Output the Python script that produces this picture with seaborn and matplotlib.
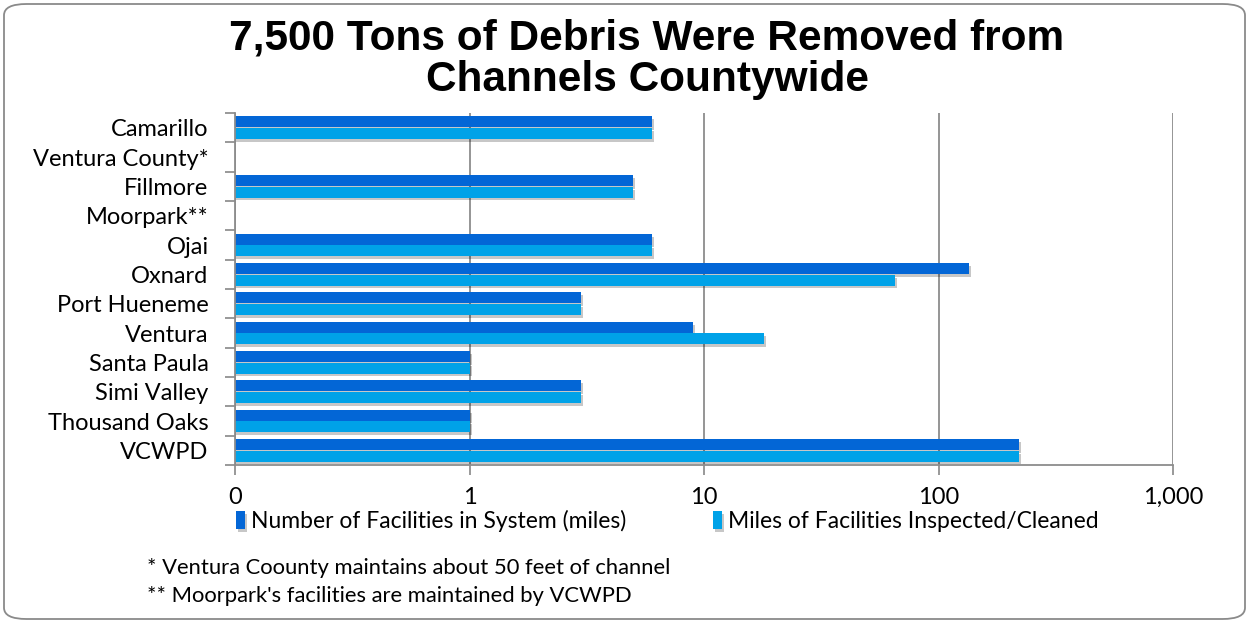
import numpy as np
import pandas as pd
import matplotlib
matplotlib.use("Agg")
import matplotlib.pyplot as plt
import matplotlib.patheffects as pe
from matplotlib.patches import FancyBboxPatch
from matplotlib.ticker import FixedLocator
import seaborn as sns

# ---------------- data ----------------
categories = ["Camarillo", "Ventura County*", "Fillmore", "Moorpark**", "Ojai", "Oxnard",
              "Port Hueneme", "Ventura", "Santa Paula", "Simi Valley", "Thousand Oaks", "VCWPD"]
series_names = ["Number of Facilities in System (miles)", "Miles of Facilities Inspected/Cleaned"]
facilities_in_system = [6, np.nan, 5, np.nan, 6, 135, 3, 9, 1, 3, 1, 220]
miles_inspected = [6, np.nan, 5, np.nan, 6, 65, 3, 18, 1, 3, 1, 220]
x_ticks = [0.1, 1, 10, 100, 1000]
x_tick_labels = ["0", "1", "10", "100", "1,000"]
title = "7,500 Tons of Debris Were Removed from\nChannels Countywide"
footnotes = ["* Ventura Coounty maintains about 50 feet of channel",
             "** Moorpark's facilities are maintained by VCWPD"]
colors = ["#0366D6", "#00A2E8"]

df = pd.DataFrame({
    "category": categories * 2,
    "series": [series_names[0]] * len(categories) + [series_names[1]] * len(categories),
    "value": facilities_in_system + miles_inspected,
})

# ---------------- plot ----------------
sns.set_theme(style="white")
plt.rcParams["font.family"] = ["Lato", "DejaVu Sans"]
plt.rcParams["text.color"] = "black"
plt.rcParams["xtick.color"] = "black"
plt.rcParams["ytick.color"] = "black"
plt.rcParams["xtick.labelcolor"] = "black"
plt.rcParams["ytick.labelcolor"] = "black"

fig = plt.figure(figsize=(12.49, 6.23), dpi=100)
ax = fig.add_axes([235 / 1249, 1 - 465 / 623, (1173 - 235) / 1249, (465 - 113) / 623])
ax.set_xscale("log")

sns.barplot(data=df, x="value", y="category", hue="series", order=categories,
            hue_order=series_names, palette=colors, orient="h", ax=ax,
            width=0.8, gap=0.08, errorbar=None, legend=True, saturation=1)

shadow = [pe.SimplePatchShadow(offset=(1.5, -2), shadow_rgbFace="#000000", alpha=0.22), pe.Normal()]
for p in ax.patches:
    p.set_path_effects(shadow)
    p.set_edgecolor("none")

ax.set_xlim(0.1, 1000)
ax.set_ylim(len(categories) - 0.5, -0.5)
ax.set_xticks(x_ticks)
ax.set_xticklabels(x_tick_labels, fontsize=17)
ax.xaxis.set_minor_locator(FixedLocator([]))
ax.tick_params(axis="x", which="major", length=7, width=1.2, color="#888888", direction="out", pad=9, bottom=True)
ax.grid(axis="x", color="#8c8c8c", linewidth=1.3)
ax.set_axisbelow(True)

ax.yaxis.set_minor_locator(FixedLocator(np.arange(-0.5, len(categories) + 0.5, 1)))
ax.tick_params(axis="y", which="major", length=0, pad=19, labelsize=17)
ax.tick_params(axis="y", which="minor", length=7, width=1.2, color="#888888", direction="out", left=True)
ax.set_xlabel("")
ax.set_ylabel("")

for s in ["top", "right"]:
    ax.spines[s].set_visible(False)
for s in ["left", "bottom"]:
    ax.spines[s].set_color("#8c8c8c")
    ax.spines[s].set_linewidth(1.3)

leg = ax.legend(loc="center left", bbox_to_anchor=(236 / 1249, 1 - 521 / 623),
                bbox_transform=fig.transFigure, ncol=2, frameon=False, fontsize=16.5,
                handlelength=0.4, handleheight=0.8, handletextpad=0.25, columnspacing=3.8,
                borderpad=0, borderaxespad=0)
for t in leg.get_texts():
    t.set_color("black")

fig.text(647 / 1249, 1 - 59 / 623, title, ha="center", va="center", fontsize=30.5,
         fontweight="bold", color="black", family=["Liberation Sans", "DejaVu Sans"], linespacing=1.05)

fig.text(147 / 1249, 1 - 568 / 623, footnotes[0], ha="left", va="center", fontsize=15.8)
fig.text(147 / 1249, 1 - 596 / 623, footnotes[1], ha="left", va="center", fontsize=15.8)

frame = FancyBboxPatch((4 / 1249, 4 / 623), 1241 / 1249, 615 / 623,
                       boxstyle="round,pad=0,rounding_size=0.018", transform=fig.transFigure,
                       facecolor="none", edgecolor="#8a8a8a", linewidth=1.3, zorder=-1)
fig.patches.append(frame)

fig.savefig("out.png", dpi=100)
